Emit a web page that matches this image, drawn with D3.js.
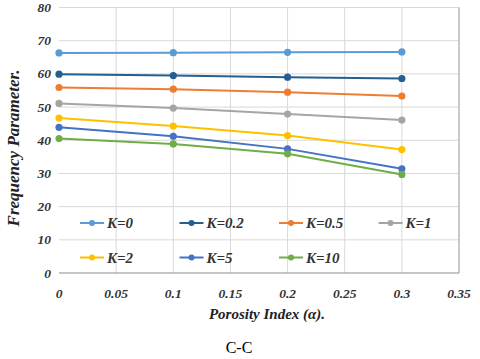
<!DOCTYPE html>
<html>
<head>
<meta charset="utf-8">
<script src="https://cdn.jsdelivr.net/npm/d3@7"></script>
<style>
  body { margin: 0; background: #fff; }
</style>
</head>
<body>
<svg id="chart" width="480" height="359"></svg>
<script>
// porosity index values
const porosity = [0, 0.1, 0.2, 0.3];
const seriesNames = ["K=0", "K=0.2", "K=0.5", "K=1", "K=2", "K=5", "K=10"];
const k0 = [66.3, 66.4, 66.5, 66.6];
const k02 = [59.9, 59.5, 59.0, 58.6];
const k05 = [55.9, 55.4, 54.5, 53.3];
const k1 = [51.1, 49.7, 47.9, 46.1];
const k2 = [46.7, 44.3, 41.4, 37.2];
const k5 = [43.9, 41.2, 37.4, 31.4];
const k10 = [40.5, 38.9, 35.9, 29.7];
const xTicks = [0, 0.05, 0.1, 0.15, 0.2, 0.25, 0.3, 0.35];
const yTicks = [0, 10, 20, 30, 40, 50, 60, 70, 80];

const colors = ["#5B9BD5", "#255E91", "#ED7D31", "#A5A5A5", "#FFC000", "#4472C4", "#70AD47"];
const allSeries = [k0, k02, k05, k1, k2, k5, k10];
const FONT = "'Liberation Serif'";

const svg = d3.select("#chart");
const plotL = 59, plotR = 459, plotT = 7.5, plotB = 273;

const x = d3.scaleLinear().domain([0, 0.35]).range([plotL, plotR]);
const y = d3.scaleLinear().domain([0, 80]).range([plotB, plotT]);

// gridlines
svg.append("g")
  .selectAll("line")
  .data(yTicks.slice(1))
  .join("line")
  .attr("x1", plotL).attr("x2", plotR)
  .attr("y1", d => y(d)).attr("y2", d => y(d))
  .attr("stroke", "#d9d9d9").attr("stroke-width", 1);

svg.append("g")
  .selectAll("line")
  .data(xTicks.slice(1))
  .join("line")
  .attr("x1", d => x(d)).attr("x2", d => x(d))
  .attr("y1", plotT).attr("y2", plotB)
  .attr("stroke", "#d9d9d9").attr("stroke-width", 1);

// bottom axis line
svg.append("line")
  .attr("x1", plotL).attr("x2", plotR)
  .attr("y1", plotB).attr("y2", plotB)
  .attr("stroke", "#8c8c8c").attr("stroke-width", 1);

// frame on right side
svg.append("line")
  .attr("x1", plotR).attr("x2", plotR)
  .attr("y1", plotT).attr("y2", plotB)
  .attr("stroke", "#a6a6a6");

// tick labels
svg.append("g")
  .selectAll("text")
  .data(yTicks)
  .join("text")
  .attr("x", 51)
  .attr("y", d => y(d) + 4.5)
  .attr("text-anchor", "end")
  .attr("font-family", FONT)
  .attr("font-size", 13.5)
  .attr("font-weight", "bold")
  .attr("font-style", "italic")
  .attr("fill", "#333")
  .text(d => d);

svg.append("g")
  .selectAll("text")
  .data(xTicks)
  .join("text")
  .attr("x", d => x(d))
  .attr("y", 298)
  .attr("text-anchor", "middle")
  .attr("font-family", FONT)
  .attr("font-size", 13.5)
  .attr("font-weight", "bold")
  .attr("font-style", "italic")
  .attr("fill", "#333")
  .text(d => d);

// axis titles
svg.append("text")
  .attr("x", 267).attr("y", 319)
  .attr("text-anchor", "middle")
  .attr("font-family", FONT)
  .attr("font-size", 15)
  .attr("font-weight", "bold")
  .attr("font-style", "italic")
  .attr("fill", "#222")
  .text("Porosity Index (α).");

svg.append("text")
  .attr("transform", "translate(19,148) rotate(-90)")
  .attr("text-anchor", "middle")
  .attr("font-family", FONT)
  .attr("font-size", 17)
  .attr("font-weight", "bold")
  .attr("font-style", "italic")
  .attr("fill", "#222")
  .text("Frequency Parameter.");

svg.append("text")
  .attr("x", 239).attr("y", 353)
  .attr("text-anchor", "middle")
  .attr("font-family", FONT)
  .attr("font-size", 16)
  .attr("fill", "#000")
  .text("C-C");

// series
const line = d3.line()
  .x((d, i) => x(porosity[i]))
  .y(d => y(d));

allSeries.forEach((vals, s) => {
  const g = svg.append("g");
  g.append("path")
    .datum(vals)
    .attr("fill", "none")
    .attr("stroke", colors[s])
    .attr("stroke-width", 2)
    .attr("d", line);
  g.selectAll("circle")
    .data(vals)
    .join("circle")
    .attr("cx", (d, i) => x(porosity[i]))
    .attr("cy", d => y(d))
    .attr("r", 3.6)
    .attr("fill", colors[s]);
});

// legend
const legend = svg.append("g");
seriesNames.forEach((name, i) => {
  const col = i < 4 ? i : i - 4;
  const row = i < 4 ? 0 : 1;
  const lx = 80 + col * 99.5;
  const ly = 223 + row * 34.5;
  legend.append("line")
    .attr("x1", lx).attr("x2", lx + 24)
    .attr("y1", ly).attr("y2", ly)
    .attr("stroke", colors[i]).attr("stroke-width", 2);
  legend.append("circle")
    .attr("cx", lx + 12).attr("cy", ly).attr("r", 3)
    .attr("fill", colors[i]);
  legend.append("text")
    .attr("x", lx + 27).attr("y", ly + 5)
    .attr("font-family", FONT)
    .attr("font-size", 15)
    .attr("font-weight", "bold")
    .attr("font-style", "italic")
    .attr("fill", "#333")
    .text(name);
});
</script>
</body>
</html>
